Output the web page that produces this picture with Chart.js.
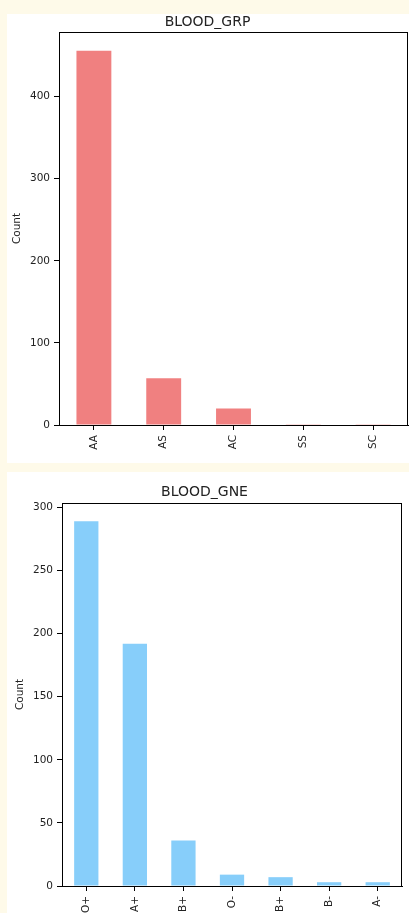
<!DOCTYPE html>
<html><head><meta charset="utf-8">
<script src="https://cdn.jsdelivr.net/npm/chart.js@4"></script>
<style>
html,body{margin:0;padding:0;background:#fefae9;width:409px;height:913px;overflow:hidden;}
.panel{position:absolute;background:#fff;overflow:hidden;}
canvas{display:block;}
</style></head><body>
<div class="panel" style="left:7px;top:14px;width:402px;height:449px"><canvas id="c1" width="402" height="449"></canvas></div>
<div class="panel" style="left:7px;top:472px;width:402px;height:441px"><canvas id="c2" width="402" height="441"></canvas></div>
<script>
const grpCategories = ['AA', 'AS', 'AC', 'SS', 'SC'];
const grpCounts = [456, 57, 20, 1, 1];
const grpTicks = [0, 100, 200, 300, 400];
const grpMax = 478.8;

const gneCategories = ['O+', 'A+', 'B+', 'O-', 'B+', 'B-', 'A-'];
const gneCounts = [289, 192, 36, 9, 7, 3, 3];
const gneTicks = [0, 50, 100, 150, 200, 250, 300];
const gneMax = 303.45;

const FONT = "'DejaVu Sans', sans-serif";
const TXT = '#222';

const frame = {
  id: 'frame',
  afterDraw(chart) {
    const a = chart.chartArea, c = chart.ctx;
    c.save();
    c.strokeStyle = '#000';
    c.lineWidth = 1;
    c.strokeRect(Math.round(a.left) + 0.5, Math.round(a.top) + 0.5,
                 Math.round(a.right - a.left) - 1, Math.round(a.bottom - a.top));
    c.restore();
  }
};

function make(id, cats, vals, ticks, maxV, color, title, o) {
  return new Chart(document.getElementById(id), {
    type: 'bar',
    data: { labels: cats, datasets: [{ data: vals, backgroundColor: color, borderWidth: 0,
      barPercentage: 0.5, categoryPercentage: 1.0 }] },
    plugins: [frame],
    options: {
      responsive: false, animation: false, devicePixelRatio: 1,
      layout: { padding: { left: 0, right: o.padR, top: 0, bottom: 0 } },
      plugins: {
        legend: { display: false }, tooltip: { enabled: false },
        title: { display: true, text: title, color: TXT,
          font: { family: FONT, size: 14, weight: 'normal', lineHeight: 1 },
          padding: { top: o.titleTop, bottom: o.titleBot } }
      },
      scales: {
        x: {
          offset: true,
          grid: { display: true, offset: false, drawOnChartArea: false, drawTicks: true,
                  tickLength: 5, color: '#000' },
          border: { display: true, color: '#000', width: 1 },
          ticks: { color: TXT, font: { family: FONT, size: 10.5 }, minRotation: 90, maxRotation: 90,
                   padding: 5, autoSkip: false },
          afterFit(s) { s.height = o.xH; }
        },
        y: {
          min: 0, max: maxV,
          grid: { display: true, drawOnChartArea: false, drawTicks: true, tickLength: 5, color: '#000' },
          border: { display: true, color: '#000', width: 1 },
          ticks: { color: TXT, font: { family: FONT, size: 10.5 }, padding: 4, includeBounds: false },
          afterBuildTicks(s) { s.ticks = ticks.map(v => ({ value: v })); },
          title: { display: true, text: 'Count', color: TXT, font: { family: FONT, size: 10.5 },
                   padding: { top: o.countPad, bottom: 0 } },
          afterFit(s) { s.width = o.yW; }
        }
      }
    }
  });
}

make('c1', grpCategories, grpCounts, grpTicks, grpMax, '#F08080', 'BLOOD_GRP',
     { padR: 1, titleTop: 1, titleBot: 3, xH: 38, yW: 52, countPad: 3.5 });
make('c2', gneCategories, gneCounts, gneTicks, gneMax, '#87CEFA', 'BLOOD_GNE',
     { padR: 7, titleTop: 13, titleBot: 4, xH: 27, yW: 55, countPad: 6.7 });
</script>
</body></html>
